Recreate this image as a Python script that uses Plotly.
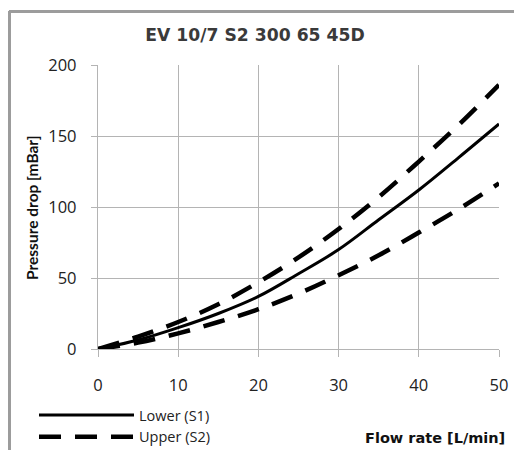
import plotly.graph_objects as go

flow = [0, 5, 10, 15, 20, 25, 30, 35, 40, 45, 50]
lower_s1 = [0, 6.3, 15, 25, 37, 53, 70, 91, 112, 135, 158.5]
upper_s2 = [0, 8.7, 19, 31.5, 47, 64.5, 84.5, 107, 132, 158, 186]
lower_dashed = [0, 4.5, 11, 19, 28, 39, 52, 66, 82, 98.6, 116.7]

x_ticks = [0, 10, 20, 30, 40, 50]
y_ticks = [0, 50, 100, 150, 200]

W, H = 514, 442  # page adds an 8px body margin

fig = go.Figure()
fig.add_trace(go.Scatter(x=flow, y=lower_s1, mode="lines", name="Lower (S1)",
                         line=dict(color="black", width=3, shape="spline")))
fig.add_trace(go.Scatter(x=flow, y=upper_s2, mode="lines", name="Upper (S2)",
                         line=dict(color="black", width=4.5, dash="22px,14px", shape="spline")))
fig.add_trace(go.Scatter(x=flow, y=lower_dashed, mode="lines", name="Upper (S2)",
                         showlegend=False,
                         line=dict(color="black", width=4.5, dash="22px,14px", shape="spline")))

grid = "#b4b4b4"
tickfont = dict(family="Open Sans", size=16.5, color="#222222")

fig.update_layout(
    width=W, height=H,
    margin=dict(l=90, r=23, t=57, b=101, autoexpand=False),
    paper_bgcolor="white", plot_bgcolor="white",
    title=dict(text="<b>EV 10/7 S2 300 65 45D</b>", x=247 / W, xanchor="center",
               y=1 - 27 / H, yanchor="middle",
               font=dict(family="DejaVu Sans", size=17.2, color="#3a3a3a")),
    xaxis=dict(range=[0, 50], tickvals=x_ticks, showgrid=True, gridcolor=grid, gridwidth=1.3,
               zeroline=False, showline=True, linecolor=grid, linewidth=1.3,
               ticks="outside", ticklen=7, tickcolor=grid, tickwidth=1.3, tickfont=tickfont,
               ticklabelstandoff=14),
    yaxis=dict(range=[0, 200], tickvals=y_ticks, showgrid=True, gridcolor=grid, gridwidth=1.3,
               zeroline=False, showline=True, linecolor=grid, linewidth=1.3,
               ticks="outside", ticklen=6, tickcolor=grid, tickwidth=1.3, tickfont=tickfont,
               ticklabelstandoff=11),
    legend=dict(xref="container", yref="container", x=26 / W, xanchor="left",
                y=1 - 391 / H, yanchor="top",
                font=dict(family="Open Sans", size=14.5, color="#222222"),
                itemwidth=95, tracegroupgap=0, bgcolor="rgba(0,0,0,0)"),
    showlegend=True,
)

fig.add_annotation(text="<b>Pressure drop [mBar]</b>", xref="paper", yref="paper",
                   x=-0.1646, y=0.5, textangle=-90, showarrow=False,
                   xanchor="center", yanchor="middle",
                   font=dict(family="Lato", size=15.5, color="#111111"))
fig.add_annotation(text="<b>Flow rate [L/min]</b>", xref="paper", yref="paper",
                   x=1.02, y=-0.313, showarrow=False, xanchor="right", yanchor="middle",
                   font=dict(family="DejaVu Sans", size=14.5, color="#111111"))

# outer chart frame (left, top, right edges; bottom lies below the window)
fx0, fx1, fy0, fy1 = -0.222, 1.0524, -0.42, 1.190
frame = dict(color="#9c9c9c", width=2)
fig.add_shape(type="line", xref="paper", yref="paper", x0=fx0, x1=fx0, y0=fy0, y1=fy1, line=frame)
fig.add_shape(type="line", xref="paper", yref="paper", x0=fx0, x1=fx1, y0=fy1, y1=fy1, line=frame)
fig.add_shape(type="line", xref="paper", yref="paper", x0=fx1, x1=fx1, y0=fy0, y1=fy1, line=frame)
fig.add_annotation(text=" ", xref="paper", yref="paper", x=fx0, y=fy1,
                   xanchor="left", yanchor="top", showarrow=False,
                   width=508, height=470, borderpad=0, borderwidth=2,
                   bordercolor="#9c9c9c", bgcolor="rgba(0,0,0,0)")

fig.write_html("out.html")
